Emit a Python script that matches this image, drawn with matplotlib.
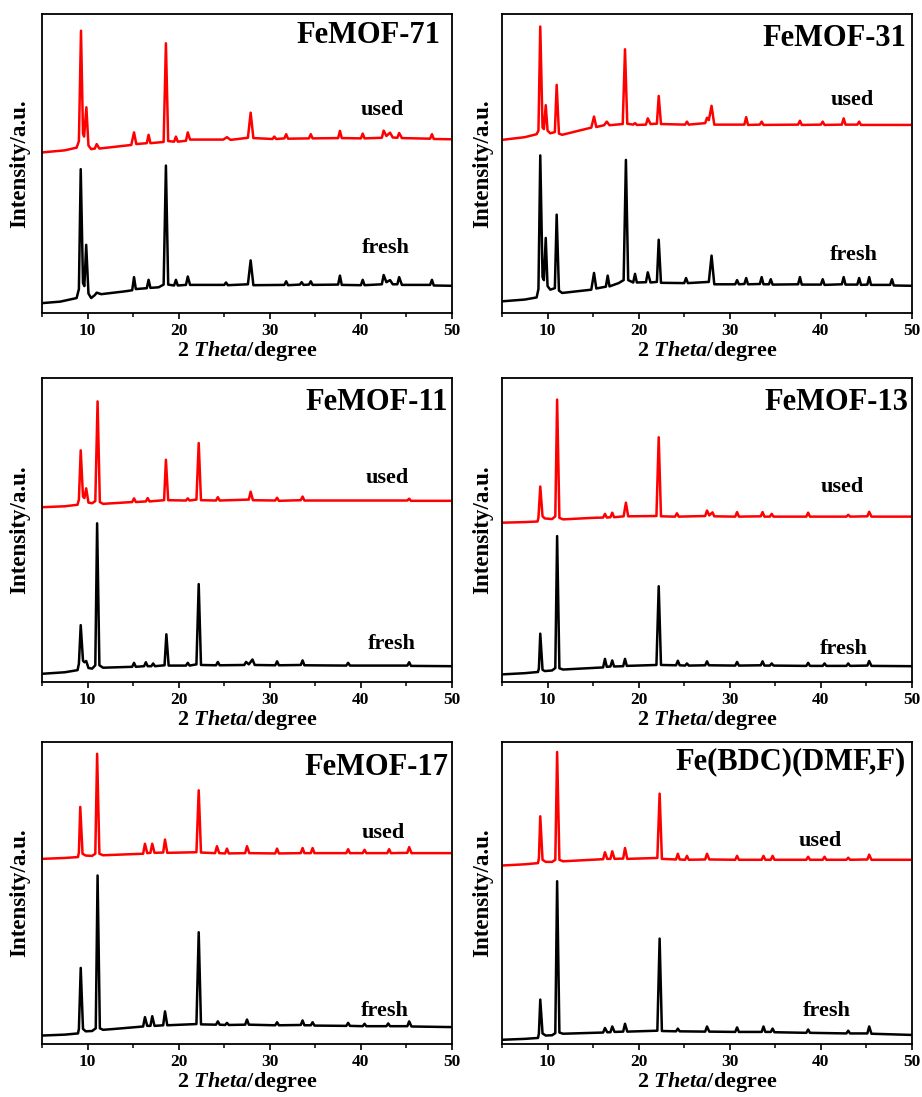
import matplotlib
matplotlib.use("Agg")
import matplotlib.pyplot as plt
import numpy as np
from matplotlib.ticker import MultipleLocator

plt.rcParams["font.family"] = ["Liberation Serif", "DejaVu Serif"]
plt.rcParams["font.weight"] = "bold"
plt.rcParams["mathtext.fontset"] = "custom"
plt.rcParams["mathtext.it"] = "Liberation Serif:italic:bold"
plt.rcParams["mathtext.rm"] = "Liberation Serif:bold"

# XRD traces: (2theta, relative intensity 0-100 of axis height)
used_71 = [(5.0, 53.7), (7.5, 54.4), (8.8, 55.3), (9.05, 57.5), (9.28, 94.4), (9.5, 60.0), (9.62, 59.0),
           (9.87, 68.8), (10.1, 56.0), (10.4, 54.8), (10.8, 55.0), (11.0, 56.5), (11.3, 55.0), (14.8, 56.2),
           (15.1, 60.4), (15.35, 56.5), (16.5, 56.8), (16.7, 59.6), (16.9, 56.8), (18.35, 57.2), (18.6, 90.2),
           (18.85, 57.5), (19.5, 57.3), (19.7, 59.0), (19.9, 57.3), (20.8, 57.6), (21.0, 60.4), (21.25, 58.0),
           (24.9, 58.0), (25.3, 58.8), (25.7, 57.9), (27.6, 58.6), (27.9, 67.0), (28.2, 58.5), (30.3, 58.2),
           (30.5, 59.0), (30.7, 58.2), (31.6, 58.4), (31.8, 59.8), (32.0, 58.3), (34.3, 58.4), (34.5, 59.8),
           (34.7, 58.4), (37.5, 58.5), (37.7, 60.9), (37.9, 58.5), (40.0, 58.4), (40.2, 60.0), (40.4, 58.4),
           (42.3, 58.6), (42.5, 61.0), (42.8, 59.2), (43.2, 60.3), (43.5, 58.7), (44.0, 58.6), (44.2, 60.2),
           (44.5, 58.5), (47.6, 58.3), (47.8, 59.8), (48.0, 58.2), (50.0, 58.1)]
fresh_71 = [(5.0, 3.3), (7.0, 3.8), (8.8, 5.0), (9.05, 8.0), (9.25, 48.1), (9.5, 10.0), (9.65, 9.0),
            (9.85, 22.8), (10.1, 6.5), (10.4, 5.0), (10.8, 6.0), (11.0, 6.8), (11.5, 6.3), (14.0, 7.2),
            (14.9, 7.6), (15.1, 12.0), (15.3, 8.0), (16.5, 8.3), (16.7, 11.1), (16.9, 8.4), (17.8, 8.6),
            (18.35, 9.5), (18.6, 49.3), (18.85, 9.5), (19.5, 9.2), (19.7, 11.1), (19.9, 9.2), (20.8, 9.4),
            (21.0, 12.2), (21.25, 9.4), (25.0, 9.4), (25.2, 10.2), (25.4, 9.3), (27.6, 9.6), (27.9, 17.6),
            (28.2, 9.3), (31.6, 9.4), (31.8, 10.6), (32.0, 9.3), (33.3, 9.5), (33.5, 10.3), (33.7, 9.4),
            (34.3, 9.5), (34.5, 10.6), (34.7, 9.4), (37.5, 9.5), (37.7, 12.5), (37.9, 9.4), (40.0, 9.3),
            (40.2, 11.1), (40.4, 9.3), (42.3, 9.6), (42.5, 12.7), (42.8, 10.3), (43.2, 11.0), (43.5, 9.6),
            (44.0, 9.6), (44.2, 12.0), (44.5, 9.4), (47.6, 9.4), (47.8, 11.1), (48.0, 9.2), (50.0, 9.1)]

used_31 = [(5.0, 57.9), (7.5, 58.8), (8.8, 59.8), (9.0, 61.0), (9.2, 95.8), (9.45, 62.0), (9.6, 61.5),
           (9.8, 69.5), (10.0, 61.0), (10.3, 60.1), (10.8, 60.5), (11.0, 76.3), (11.25, 60.0), (11.6, 59.6),
           (14.8, 62.0), (15.1, 65.7), (15.35, 62.2), (16.2, 62.8), (16.5, 64.0), (16.8, 62.8), (18.25, 63.2),
           (18.5, 88.2), (18.75, 63.3), (19.4, 63.0), (19.6, 63.5), (19.8, 62.9), (20.8, 63.0), (21.0, 65.1),
           (21.3, 63.2), (22.0, 63.3), (22.2, 72.6), (22.45, 63.2), (25.1, 63.0), (25.3, 64.0), (25.5, 63.0),
           (27.3, 63.5), (27.5, 65.3), (27.7, 64.5), (28.0, 69.3), (28.3, 63.0), (31.6, 63.0), (31.8, 65.5),
           (32.0, 62.9), (33.3, 63.0), (33.5, 64.0), (33.7, 62.9), (37.5, 63.0), (37.7, 64.3), (37.9, 62.9),
           (40.0, 63.0), (40.2, 64.0), (40.4, 62.9), (42.3, 63.0), (42.5, 65.1), (42.7, 63.0), (44.0, 63.0),
           (44.2, 64.0), (44.4, 62.9), (50.0, 62.9)]
fresh_31 = [(5.0, 3.9), (7.5, 4.5), (8.8, 5.2), (9.0, 8.0), (9.2, 52.7), (9.45, 12.0), (9.6, 11.0),
            (9.8, 25.1), (10.0, 9.0), (10.3, 7.8), (10.8, 8.3), (11.0, 32.9), (11.25, 7.5), (11.6, 6.7),
            (14.8, 7.8), (15.1, 13.4), (15.35, 8.2), (16.4, 8.8), (16.6, 12.5), (16.8, 8.9), (17.8, 10.0),
            (18.35, 11.0), (18.6, 51.2), (18.85, 11.0), (19.4, 10.2), (19.6, 13.1), (19.8, 10.2), (20.8, 10.3),
            (21.0, 13.6), (21.3, 10.2), (22.0, 10.4), (22.2, 24.5), (22.45, 10.1), (25.0, 10.0), (25.2, 11.7),
            (25.4, 10.0), (27.7, 10.4), (28.0, 19.2), (28.3, 9.6), (30.6, 9.6), (30.8, 11.0), (31.0, 9.6),
            (31.6, 9.7), (31.8, 11.7), (32.0, 9.6), (33.3, 9.7), (33.5, 12.0), (33.7, 9.6), (34.3, 9.6),
            (34.5, 11.3), (34.7, 9.5), (37.5, 9.6), (37.7, 12.0), (37.9, 9.5), (40.0, 9.5), (40.2, 11.3),
            (40.4, 9.4), (42.3, 9.6), (42.5, 12.0), (42.7, 9.5), (44.0, 9.5), (44.2, 11.7), (44.4, 9.4),
            (45.1, 9.5), (45.3, 12.0), (45.5, 9.4), (47.6, 9.4), (47.8, 11.3), (48.0, 9.2), (50.0, 9.1)]

used_11 = [(5.0, 57.5), (7.5, 57.8), (8.9, 58.3), (9.05, 60.0), (9.25, 76.2), (9.5, 61.0), (9.65, 60.5),
           (9.85, 63.7), (10.1, 59.0), (10.5, 58.8), (10.85, 59.5), (11.1, 92.3), (11.35, 59.2), (11.7, 58.6),
           (14.9, 59.2), (15.1, 60.4), (15.3, 59.2), (16.4, 59.4), (16.6, 60.5), (16.8, 59.4), (18.4, 59.8),
           (18.6, 73.1), (18.85, 59.8), (20.8, 59.7), (21.0, 60.4), (21.2, 59.7), (21.95, 60.0), (22.2, 78.6),
           (22.45, 59.8), (24.1, 59.7), (24.3, 60.8), (24.5, 59.7), (27.7, 60.0), (27.9, 62.6), (28.15, 59.8),
           (30.6, 59.7), (30.8, 60.6), (31.0, 59.6), (33.4, 59.8), (33.6, 61.0), (33.8, 59.7), (45.1, 59.7),
           (45.3, 60.3), (45.5, 59.6), (50.0, 59.6)]
fresh_11 = [(5.0, 2.7), (7.5, 3.2), (8.9, 3.9), (9.05, 6.0), (9.25, 18.7), (9.5, 7.0), (9.65, 6.5),
            (9.85, 6.9), (10.1, 4.6), (10.5, 4.4), (10.85, 5.5), (11.05, 52.2), (11.3, 5.5), (11.7, 4.7),
            (14.9, 5.0), (15.1, 6.3), (15.3, 5.0), (16.2, 5.2), (16.4, 6.5), (16.6, 5.2), (17.0, 5.2),
            (17.2, 6.1), (17.4, 5.2), (18.45, 5.5), (18.65, 15.7), (18.9, 5.4), (20.8, 5.4), (21.0, 6.3),
            (21.2, 5.4), (21.95, 5.8), (22.2, 32.2), (22.45, 5.6), (24.1, 5.5), (24.3, 6.6), (24.5, 5.5),
            (27.2, 5.6), (27.4, 6.6), (27.7, 5.8), (28.1, 7.4), (28.35, 5.6), (30.6, 5.5), (30.8, 6.8),
            (31.0, 5.5), (33.4, 5.6), (33.6, 7.1), (33.8, 5.5), (38.4, 5.4), (38.6, 6.3), (38.8, 5.4),
            (45.1, 5.4), (45.3, 6.5), (45.5, 5.3), (50.0, 5.2)]

used_13 = [(5.0, 52.4), (7.5, 52.6), (8.9, 52.8), (9.0, 54.0), (9.2, 64.3), (9.45, 54.5), (9.7, 53.8),
           (10.5, 53.6), (10.85, 54.5), (11.05, 92.9), (11.3, 54.0), (11.7, 53.5), (15.0, 54.0), (16.1, 54.1),
           (16.3, 55.3), (16.5, 54.1), (16.9, 54.2), (17.1, 55.7), (17.3, 54.2), (18.35, 54.5), (18.6, 59.0),
           (18.85, 54.5), (21.95, 54.6), (22.2, 80.5), (22.45, 54.5), (24.0, 54.4), (24.2, 55.5), (24.4, 54.4),
           (27.3, 54.6), (27.5, 56.4), (27.75, 54.8), (28.1, 55.8), (28.3, 54.5), (30.6, 54.4), (30.8, 55.9),
           (31.0, 54.4), (33.4, 54.5), (33.6, 55.9), (33.8, 54.4), (34.4, 54.4), (34.6, 55.3), (34.8, 54.4),
           (38.4, 54.4), (38.6, 55.7), (38.8, 54.4), (42.8, 54.4), (43.0, 55.0), (43.2, 54.4), (45.1, 54.5),
           (45.3, 56.0), (45.55, 54.4), (50.0, 54.4)]
fresh_13 = [(5.0, 2.5), (7.5, 2.9), (8.95, 3.3), (9.05, 4.5), (9.2, 15.9), (9.45, 4.0), (9.7, 3.6),
            (10.5, 3.8), (10.85, 4.6), (11.05, 48.0), (11.3, 4.5), (11.7, 4.1), (16.1, 4.8), (16.3, 7.6),
            (16.5, 5.0), (16.9, 5.1), (17.1, 7.1), (17.3, 5.1), (18.3, 5.2), (18.5, 7.6), (18.7, 5.3),
            (21.95, 5.6), (22.2, 31.5), (22.45, 5.6), (24.1, 5.5), (24.3, 7.0), (24.5, 5.5), (25.1, 5.4),
            (25.3, 6.1), (25.5, 5.4), (27.3, 5.5), (27.5, 6.8), (27.7, 5.5), (30.6, 5.4), (30.8, 6.6),
            (31.0, 5.4), (33.4, 5.5), (33.6, 6.8), (33.8, 5.4), (34.4, 5.4), (34.6, 6.1), (34.8, 5.4),
            (38.4, 5.3), (38.6, 6.3), (38.8, 5.3), (40.2, 5.3), (40.4, 6.1), (40.6, 5.3), (42.8, 5.3),
            (43.0, 6.1), (43.2, 5.3), (45.1, 5.4), (45.3, 6.9), (45.55, 5.3), (50.0, 5.2)]

used_17 = [(5.0, 61.3), (7.5, 61.6), (8.95, 61.9), (9.05, 63.5), (9.2, 78.5), (9.45, 63.0), (9.8, 62.4),
           (10.5, 62.3), (10.85, 63.0), (11.05, 96.1), (11.3, 63.0), (11.7, 62.5), (16.1, 63.0), (16.3, 66.3),
           (16.55, 63.2), (16.9, 63.3), (17.1, 66.3), (17.35, 63.3), (18.3, 63.4), (18.5, 67.7), (18.75, 63.3),
           (21.95, 63.5), (22.2, 84.0), (22.45, 63.4), (24.0, 63.2), (24.2, 65.5), (24.45, 63.2), (25.1, 63.1),
           (25.3, 64.7), (25.5, 63.1), (27.3, 63.2), (27.5, 65.5), (27.75, 63.2), (30.6, 63.1), (30.8, 64.7),
           (31.0, 63.1), (33.4, 63.2), (33.6, 64.9), (33.8, 63.2), (34.5, 63.2), (34.7, 64.9), (34.9, 63.2),
           (38.4, 63.2), (38.6, 64.5), (38.8, 63.2), (40.2, 63.2), (40.4, 64.3), (40.6, 63.2), (42.9, 63.2),
           (43.1, 64.5), (43.3, 63.2), (45.1, 63.3), (45.3, 65.2), (45.55, 63.2), (50.0, 63.2)]
fresh_17 = [(5.0, 2.8), (7.5, 3.1), (8.95, 3.5), (9.05, 5.0), (9.25, 25.2), (9.5, 5.0), (9.8, 4.2),
            (10.5, 4.3), (10.9, 5.2), (11.1, 55.8), (11.35, 5.2), (11.7, 4.7), (13.0, 5.0), (16.1, 5.8),
            (16.3, 8.9), (16.55, 6.0), (16.9, 6.0), (17.1, 9.2), (17.35, 6.0), (18.3, 6.2), (18.5, 10.8),
            (18.75, 6.2), (21.95, 6.6), (22.2, 37.0), (22.45, 6.5), (24.1, 6.4), (24.3, 7.5), (24.5, 6.4),
            (25.1, 6.3), (25.3, 7.0), (25.5, 6.3), (27.3, 6.4), (27.5, 8.1), (27.7, 6.4), (30.6, 6.2),
            (30.8, 7.2), (31.0, 6.2), (33.4, 6.3), (33.6, 7.8), (33.8, 6.2), (34.5, 6.2), (34.7, 7.2),
            (34.9, 6.1), (38.4, 6.0), (38.6, 7.0), (38.8, 6.0), (40.2, 5.9), (40.4, 6.7), (40.6, 5.9),
            (42.8, 5.9), (43.0, 6.8), (43.2, 5.9), (45.1, 5.9), (45.3, 7.5), (45.55, 5.8), (50.0, 5.6)]

used_bdc = [(5.0, 59.1), (7.5, 59.5), (8.95, 59.9), (9.05, 61.5), (9.2, 75.4), (9.45, 61.0), (9.8, 60.3),
            (10.5, 60.3), (10.85, 61.0), (11.05, 96.7), (11.3, 61.0), (11.7, 60.5), (16.1, 61.2), (16.3, 63.5),
            (16.55, 61.3), (16.9, 61.3), (17.1, 63.8), (17.35, 61.3), (18.3, 61.4), (18.5, 64.9), (18.75, 61.3),
            (22.05, 61.6), (22.3, 82.9), (22.55, 61.3), (24.1, 61.1), (24.3, 63.0), (24.5, 61.1), (25.1, 61.0),
            (25.3, 62.3), (25.5, 61.0), (27.3, 61.1), (27.5, 63.0), (27.75, 61.1), (30.6, 61.0), (30.8, 62.3),
            (31.0, 61.0), (33.5, 61.0), (33.7, 62.3), (33.9, 61.0), (34.5, 61.0), (34.7, 62.3), (34.9, 61.0),
            (38.4, 61.0), (38.6, 62.0), (38.8, 61.0), (40.2, 61.0), (40.4, 62.0), (40.6, 61.0), (42.8, 61.0),
            (43.0, 61.7), (43.2, 61.0), (45.1, 61.1), (45.3, 62.7), (45.55, 61.0), (50.0, 61.0)]
fresh_bdc = [(5.0, 1.4), (7.5, 1.7), (8.95, 2.0), (9.05, 3.5), (9.2, 14.7), (9.45, 3.5), (9.8, 2.8),
             (10.5, 2.9), (10.85, 3.6), (11.05, 53.9), (11.3, 3.8), (11.7, 3.4), (16.1, 3.8), (16.3, 5.3),
             (16.55, 3.9), (16.9, 3.9), (17.1, 5.8), (17.35, 4.0), (18.3, 4.1), (18.5, 6.7), (18.75, 4.1),
             (22.05, 4.4), (22.3, 34.9), (22.55, 4.3), (24.1, 4.2), (24.3, 5.1), (24.5, 4.2), (27.3, 4.1),
             (27.5, 5.8), (27.75, 4.1), (30.6, 4.0), (30.8, 5.5), (31.0, 4.0), (33.5, 4.0), (33.7, 5.8),
             (33.9, 4.0), (34.5, 4.0), (34.7, 5.1), (34.9, 3.9), (38.4, 3.7), (38.6, 4.8), (38.8, 3.7),
             (42.8, 3.5), (43.0, 4.4), (43.2, 3.5), (45.1, 3.5), (45.3, 5.8), (45.55, 3.4), (50.0, 3.0)]

titles = ["FeMOF-71", "FeMOF-31", "FeMOF-11", "FeMOF-13", "FeMOF-17", "Fe(BDC)(DMF,F)"]
used_traces = [used_71, used_31, used_11, used_13, used_17, used_bdc]
fresh_traces = [fresh_71, fresh_31, fresh_11, fresh_13, fresh_17, fresh_bdc]
# label anchor positions (x center, y center) for "used" / "fresh"
used_pos = [(42.3, 67.9), (43.4, 71.3), (42.9, 67.0), (42.3, 64.3), (42.5, 69.9), (39.9, 67.1)]
fresh_pos = [(42.7, 21.7), (43.6, 19.5), (43.4, 12.6), (42.5, 11.0), (42.6, 10.8), (40.6, 10.8)]
title_x = [48.7, 49.4, 49.6, 49.6, 49.6, 49.3]
title_y = [92.9, 91.9, 91.8, 92.0, 91.4, 93.6]

# axes boxes in pixels: left, top, right, bottom
W, H = 922, 1097
cols = [(42, 452), (502, 912)]
rows = [(14, 313), (378, 682), (742, 1044)]

fig = plt.figure(figsize=(W / 100, H / 100), dpi=100)

for i in range(6):
    r, c = divmod(i, 2)
    l, rt = cols[c]
    t, b = rows[r]
    ax = fig.add_axes([l / W, 1 - b / H, (rt - l) / W, (b - t) / H])

    u = np.array(used_traces[i]).T
    f = np.array(fresh_traces[i]).T
    ax.plot(f[0], f[1], color="black", lw=1.8)
    ax.plot(u[0], u[1], color="#ff0000", lw=1.8)

    ax.set_xlim(5, 50)
    ax.set_ylim(0, 100)
    ax.set_yticks([])
    ax.xaxis.set_major_locator(MultipleLocator(10))
    ax.xaxis.set_minor_locator(MultipleLocator(5))
    ax.tick_params(axis="x", which="major", direction="out", length=4.5, width=1.2,
                   labelsize=12.5, pad=2.5)
    ax.tick_params(axis="x", which="minor", direction="out", length=3, width=1.1)
    for lab in ax.get_xticklabels():
        lab.set_fontweight("bold")
    for s in ax.spines.values():
        s.set_linewidth(1.3)

    ax.set_xlabel(r"2 $\mathit{Theta}$/degree", fontsize=16, fontweight="bold", labelpad=0)
    ax.set_ylabel("Intensity/a.u.", fontsize=16.5, fontweight="bold")
    ax.yaxis.set_label_coords(-0.028 if c == 0 else -0.022, 0.5)

    ax.text(title_x[i], title_y[i], titles[i], ha="right", va="center", fontsize=22, fontweight="bold")
    ax.text(*used_pos[i], "used", ha="center", va="center", fontsize=16, fontweight="bold")
    ax.text(*fresh_pos[i], "fresh", ha="center", va="center", fontsize=16, fontweight="bold")

fig.savefig("out.png", dpi=100)
